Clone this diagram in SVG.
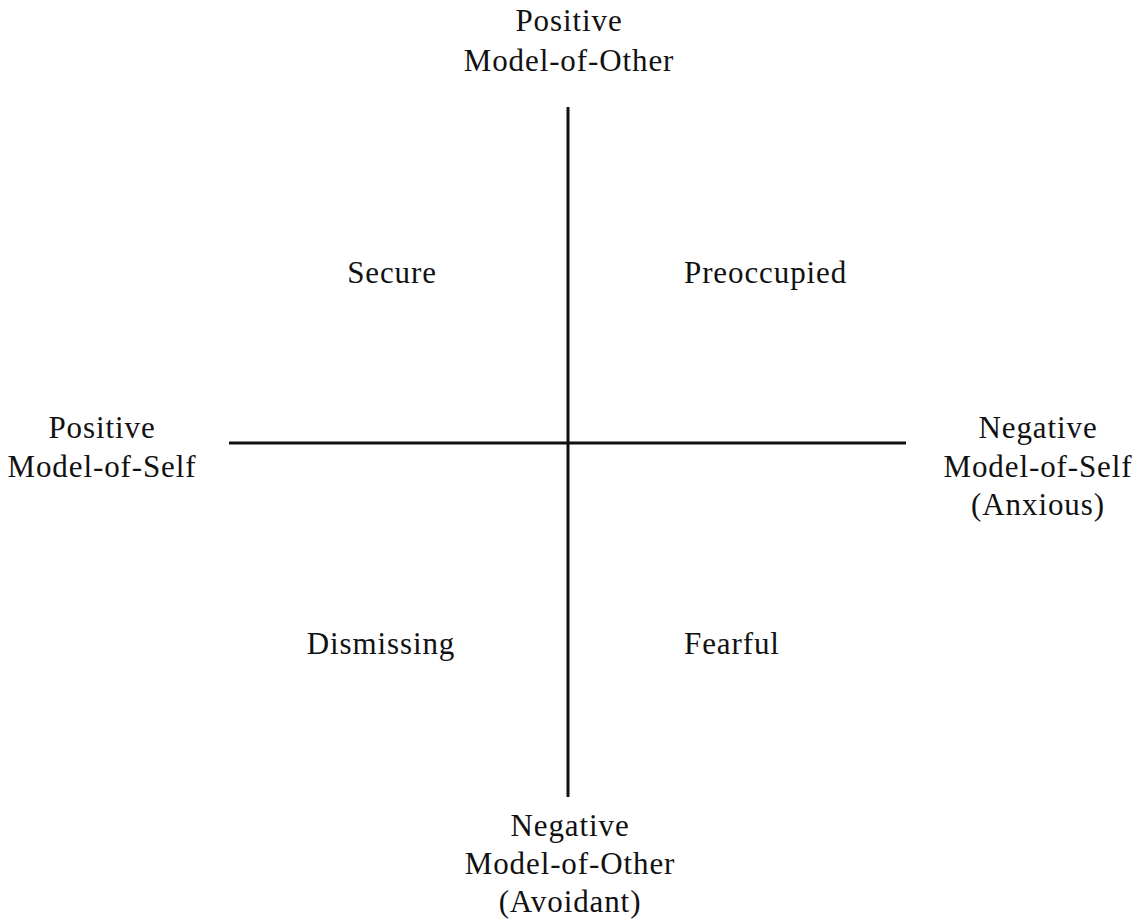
<svg xmlns="http://www.w3.org/2000/svg" width="1140" height="922" viewBox="0 0 1140 922">
<style>
text{font-family:"Liberation Serif","Times New Roman",serif;font-size:31px;fill:#111;text-anchor:middle;letter-spacing:0.9px}
.l{text-anchor:start}
.ax{stroke:#111;stroke-width:3;fill:none}
</style>
<rect width="1140" height="922" fill="#fff"/>
<g id="connectors">
<line class="ax" x1="568" y1="107" x2="568" y2="797"/>
<line class="ax" x1="229" y1="443" x2="906" y2="443"/>
</g>
<g id="top"><text x="569" y="31">Positive</text><text x="569" y="71">Model-of-Other</text></g>
<g id="left"><text x="102" y="438">Positive</text><text x="102" y="477">Model-of-Self</text></g>
<g id="right"><text x="1038" y="438">Negative</text><text x="1038" y="477">Model-of-Self</text><text x="1038" y="515">(Anxious)</text></g>
<g id="bottom"><text x="570" y="836">Negative</text><text x="570" y="874">Model-of-Other</text><text x="570" y="912">(Avoidant)</text></g>
<g id="secure"><text x="392" y="283">Secure</text></g>
<g id="preoccupied"><text class="l" x="684" y="283">Preoccupied</text></g>
<g id="dismissing"><text x="381" y="654">Dismissing</text></g>
<g id="fearful"><text class="l" x="684" y="654">Fearful</text></g>
</svg>
